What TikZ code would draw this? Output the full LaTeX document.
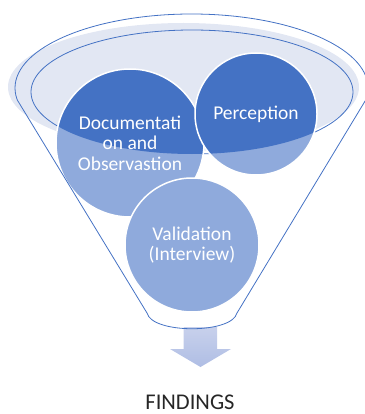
\documentclass[tikz,border=0pt]{standalone}
\usepackage{fontspec}
\setmainfont{Carlito}
\definecolor{bluedark}{HTML}{4472C4}
\definecolor{bluelight}{HTML}{8FAADC}
\definecolor{rimfill}{HTML}{E2E7F3}
\definecolor{arrowtop}{HTML}{C8D1EC}
\definecolor{arrowbot}{HTML}{AFBDE4}
\definecolor{labelgray}{HTML}{262626}
\tikzset{
  funnelline/.style={draw=bluedark, line width=0.8pt},
  bubble/.style={circle, draw=white, line width=1.5pt, inner sep=0pt,
    text=white, align=center, font=\fontsize{19.5}{20.5}\selectfont},
  caption/.style={text=labelgray, font=\fontsize{22.5}{26}\selectfont,
    inner sep=0pt, text depth=0pt}
}
\begin{document}
\begin{tikzpicture}[x=1pt, y=-1pt]
\useasboundingbox (0,0) rectangle (364,414);

% light rim of the funnel mouth
\fill[rimfill] (183.5,87) ellipse [x radius=175.5pt, y radius=64pt];
% inner opening
\draw[funnelline] (192,92) ellipse [x radius=161pt, y radius=62pt];

% Documentation and Observation
\fill[bluelight] (130,143) circle [radius=74pt];
\begin{scope}
  \clip (192,92) ellipse [x radius=161pt, y radius=62pt];
  \fill[bluedark] (130,143) circle [radius=74pt];
\end{scope}
\node[bubble, minimum size=148pt] (doc) at (130,143) {Documentati\\on and\\Observastion};

% Perception
\fill[bluelight] (256,114) circle [radius=61pt];
\begin{scope}
  \clip (192,92) ellipse [x radius=161pt, y radius=62pt];
  \fill[bluedark] (256,114) circle [radius=61pt];
\end{scope}
\node[bubble, minimum size=122pt] (per) at (256,114) {Perception};

% Validation
\fill[bluelight] (192,245) circle [radius=67pt];
\node[bubble, minimum size=134pt] (val) at (192,245) {Validation\\(Interview)};

% output arrow
\shade[top color=arrowtop, bottom color=arrowbot]
  (183.5,327) -- (217,327) -- (217,349) -- (231,349) -- (200.5,367)
  -- (170,349) -- (183.5,349) -- cycle;

% funnel outline: upper edge of the mouth, sides and rounded bottom
\begin{scope}
  \clip (0,0) rectangle (380,100);
  \draw[funnelline] (191.5,88) ellipse [x radius=176.5pt, y radius=74pt];
\end{scope}
\draw[funnelline, line join=round] (17.3,100) -- (147,313)
  .. controls (152,334) and (232,334) .. (237,313) -- (365.7,100);

\node[caption, anchor=base] (findings) at (190,409.5) {FINDINGS};
\end{tikzpicture}
\end{document}
